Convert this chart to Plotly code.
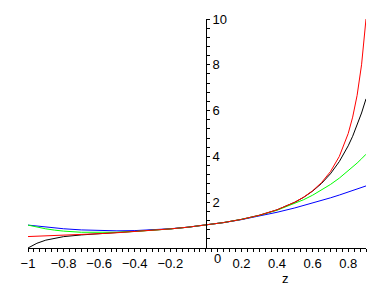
import plotly.graph_objects as go

# sample points along z
z_vals = [-1, -0.95, -0.9, -0.85, -0.8, -0.7, -0.6, -0.5, -0.4, -0.3, -0.2, -0.1, 0,
          0.1, 0.2, 0.3, 0.4, 0.5, 0.55, 0.6, 0.65, 0.7, 0.75, 0.8, 0.825, 0.85, 0.875, 0.9]

black_vals = [0, 0.2058, 0.3428, 0.4341, 0.4959, 0.5716, 0.6212, 0.6660, 0.7142, 0.7692, 0.8333, 0.9091, 1,
              1.1111, 1.25, 1.4286, 1.6665, 1.998, 2.2166, 2.4849, 2.8187, 3.2392, 3.7747, 4.4631, 4.8797,
              5.3542, 5.8954, 6.5132]
blue_vals = [1, 0.9525, 0.91, 0.8725, 0.84, 0.79, 0.76, 0.75, 0.76, 0.79, 0.84, 0.91, 1,
             1.11, 1.24, 1.39, 1.56, 1.75, 1.8525, 1.96, 2.0725, 2.19, 2.3125, 2.44, 2.5056,
             2.5725, 2.6406, 2.71]
green_vals = [1, 0.9096, 0.8371, 0.7804, 0.7376, 0.6871, 0.6736, 0.6875, 0.7216, 0.7711, 0.8336, 0.9091, 1,
              1.1111, 1.2496, 1.4251, 1.6496, 1.9375, 2.1104, 2.3056, 2.5256, 2.7731, 3.0508, 3.3616, 3.5304,
              3.7086, 3.8967, 4.0951]
red_vals = [0.5, 0.5128, 0.5263, 0.5405, 0.5556, 0.5882, 0.625, 0.6667, 0.7143, 0.7692, 0.8333, 0.9091, 1,
            1.1111, 1.25, 1.4286, 1.6667, 2, 2.2222, 2.5, 2.8571, 3.3333, 4, 5, 5.7143,
            6.6667, 8, 10]

x_tickvals = [-1, -0.8, -0.6, -0.4, -0.2, 0.2, 0.4, 0.6, 0.8]
x_ticktext = ["\u22121", "\u22120.8", "\u22120.6", "\u22120.4", "\u22120.2", "0.2", "0.4", "0.6", "0.8"]
y_tickvals = [2, 4, 6, 8, 10]
y_ticktext = ["2", "4", "6", "8", "10"]
x_title = "z"

FONT = "Liberation Sans, Arial, sans-serif"
FS = 13

fig = go.Figure()
for vals, col in [(black_vals, "#000000"), (blue_vals, "#0000ff"),
                  (green_vals, "#00ff00"), (red_vals, "#ff0000")]:
    fig.add_trace(go.Scatter(x=z_vals, y=vals, mode="lines",
                             line=dict(color=col, width=1), showlegend=False,
                             hoverinfo="skip"))

fig.update_layout(
    width=388, height=288,
    margin=dict(l=28, r=22, t=12, b=40),
    paper_bgcolor="white", plot_bgcolor="white",
    font=dict(family=FONT, size=FS, color="black"),
    xaxis=dict(range=[-1, 0.9], domain=[0, 1], showgrid=False, zeroline=False,
               showline=True, linecolor="black", linewidth=1,
               ticks="outside", ticklen=3, tickwidth=1, tickcolor="black",
               tickmode="array", tickvals=x_tickvals, ticktext=x_ticktext,
               tickfont=dict(family=FONT, size=FS),
               minor=dict(ticks="outside", ticklen=3, tickwidth=1, tickcolor="black",
                          tick0=0, dtick=1/30, showgrid=False)),
    yaxis=dict(range=[0, 10], anchor="free", position=1/1.9, side="right",
               showgrid=False, zeroline=False,
               showline=True, linecolor="black", linewidth=1,
               ticks="outside", ticklen=3, tickwidth=1, tickcolor="black",
               tickmode="array", tickvals=y_tickvals, ticktext=y_ticktext,
               tickfont=dict(family=FONT, size=FS),
               minor=dict(ticks="outside", ticklen=3, tickwidth=1, tickcolor="black",
                          tick0=0, dtick=0.4, showgrid=False)),
    annotations=[
        dict(x=0, y=0, xref="x", yref="y", text="0", showarrow=False,
             xanchor="left", yanchor="top", xshift=6, yshift=-1,
             font=dict(family=FONT, size=FS)),
        dict(x=0.445, y=-0.135, xref="x", yref="paper", text=x_title, showarrow=False,
             xanchor="center", yanchor="middle",
             font=dict(family=FONT, size=FS)),
    ],
)

fig.write_html("out.html")
